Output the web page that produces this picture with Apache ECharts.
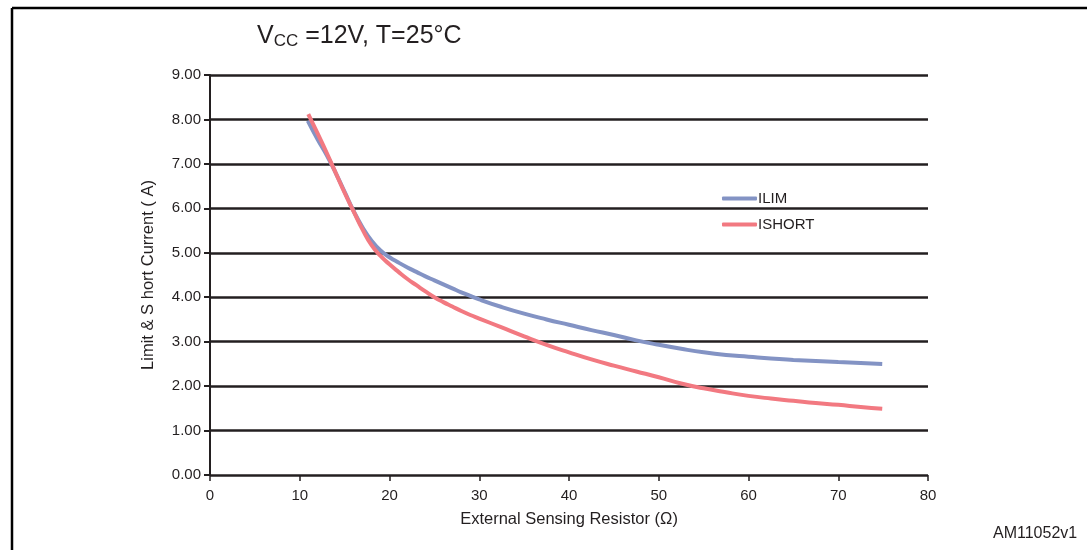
<!DOCTYPE html>
<html><head><meta charset="utf-8">
<script src="https://cdn.jsdelivr.net/npm/echarts@6/dist/echarts.min.js"></script>
<style>html,body{margin:0;padding:0;background:#fff}#c{width:1087px;height:550px}</style>
</head><body><div id="c"></div>
<script>
const xTicks = [0, 10, 20, 30, 40, 50, 60, 70, 80];
const yTicks = [0, 1, 2, 3, 4, 5, 6, 7, 8, 9];
const seriesNames = ['ILIM', 'ISHORT'];
const ilim = [[10.9,7.97],[12,7.55],[13,7.2],[14,6.8],[15,6.37],[16,5.94],[17,5.57],[18,5.27],[19,5.05],[20,4.9],[21,4.78],[22,4.67],[23,4.57],[24,4.47],[25,4.38],[26,4.29],[27,4.2],[28,4.11],[29,4.03],[30,3.95],[32.5,3.78],[35,3.63],[37.5,3.5],[40,3.38],[42.5,3.26],[45,3.15],[47.5,3.03],[50,2.93],[52.5,2.84],[55,2.76],[57.5,2.7],[60,2.66],[62.5,2.62],[65,2.59],[67.5,2.565],[70,2.54],[72.5,2.52],[74.9,2.5]];
const ishort = [[10.95,8.12],[12,7.68],[13,7.25],[14,6.8],[15,6.35],[16,5.93],[17,5.52],[18,5.17],[19,4.93],[20,4.74],[21,4.57],[22,4.41],[23,4.27],[24,4.13],[25,4.0],[26,3.89],[27,3.79],[28,3.69],[29,3.6],[30,3.52],[32.5,3.32],[35,3.12],[37.5,2.93],[40,2.76],[42.5,2.6],[45,2.46],[47.5,2.33],[50,2.2],[52.5,2.06],[55,1.95],[57.5,1.86],[60,1.78],[62.5,1.72],[65,1.67],[67.5,1.62],[70,1.58],[72.5,1.53],[74.9,1.49]];

const chart = echarts.init(document.getElementById('c'));
const F = 'Liberation Sans, Arial, sans-serif';
chart.setOption({
  animation: false,
  backgroundColor: '#fff',
  grid: { left: 210, right: 159, top: 75, bottom: 75 },
  title: {
    text: '{v|V}{s|CC}{v| =12V, T=25°C}',
    left: 252, top: 17,
    textStyle: { rich: {
      v: { fontFamily: F, fontSize: 25, fontWeight: 'normal', color: '#231f20' },
      s: { fontFamily: F, fontSize: 17, fontWeight: 'normal', color: '#231f20', padding: [11, 0, 0, 0] }
    } }
  },
  legend: {
    orient: 'vertical', left: 717, top: 186, itemGap: 11,
    itemWidth: 35, itemHeight: 4,
    icon: 'roundRect',
    textStyle: { fontFamily: F, fontSize: 15, color: '#231f20', padding: [0, 0, 0, -4] },
    data: seriesNames
  },
  xAxis: {
    type: 'value', min: xTicks[0], max: xTicks[xTicks.length - 1], interval: 10,
    name: 'External Sensing Resistor (Ω)', nameLocation: 'middle', nameGap: 36,
    nameTextStyle: { fontFamily: F, fontSize: 16.5, color: '#231f20' },
    axisLine: { show: false },
    axisTick: { show: true, length: 6, lineStyle: { color: '#231f20', width: 1.5 } },
    axisLabel: { fontFamily: F, fontSize: 15, color: '#231f20', margin: 13 },
    splitLine: { show: false }
  },
  yAxis: {
    type: 'value', min: yTicks[0], max: yTicks[yTicks.length - 1], interval: 1,
    name: 'Limit & S hort Current ( A)', nameLocation: 'middle', nameGap: 53,
    nameTextStyle: { fontFamily: F, fontSize: 16.5, color: '#231f20' },
    axisLine: { show: true, lineStyle: { color: '#231f20', width: 2 } },
    axisTick: { show: true, length: 6, lineStyle: { color: '#231f20', width: 2 } },
    axisLabel: { fontFamily: F, fontSize: 15, color: '#231f20', margin: 9, formatter: v => v.toFixed(2) },
    splitLine: { show: true, lineStyle: { color: '#231f20', width: 2.5 } }
  },
  series: [
    { name: seriesNames[0], type: 'line', data: ilim, smooth: 0.5, showSymbol: false,
      lineStyle: { color: '#8393c4', width: 4 }, itemStyle: { color: '#8393c4' }, z: 3 },
    { name: seriesNames[1], type: 'line', data: ishort, smooth: 0.5, showSymbol: false,
      lineStyle: { color: '#f27981', width: 4 }, itemStyle: { color: '#f27981' }, z: 4 }
  ],
  graphic: [
    { type: 'line', shape: { x1: 12, y1: 8, x2: 1087, y2: 8 }, style: { stroke: '#000', lineWidth: 2.5 } },
    { type: 'line', shape: { x1: 12, y1: 8, x2: 12, y2: 550 }, style: { stroke: '#000', lineWidth: 2.5 } },
    { type: 'text', left: 993, top: 526, style: { text: 'AM11052v1', font: '16px ' + F, fill: '#231f20' } }
  ]
});
</script></body></html>
